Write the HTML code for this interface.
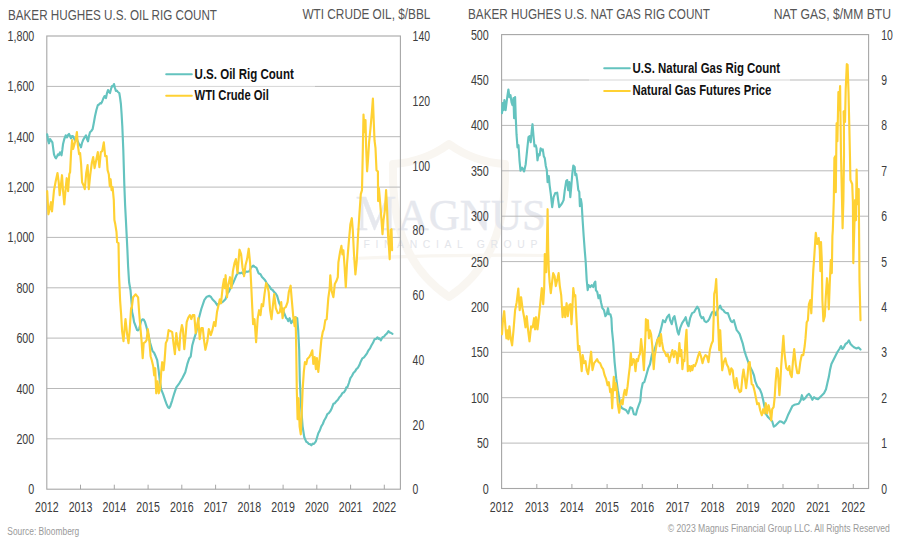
<!DOCTYPE html>
<html><head><meta charset="utf-8"><title>Rig counts</title>
<style>
html,body{margin:0;padding:0;background:#fff;}
body{width:897px;height:539px;overflow:hidden;}
svg{display:block;font-family:"Liberation Sans",sans-serif;}
</style></head><body>
<svg width="897" height="539" viewBox="0 0 897 539">
<rect width="897" height="539" fill="#ffffff"/>

<g id="wm">
<path d="M449 144 C431 157 410 163 393 164 C392 214 400 264 449 297 C498 264 506 214 505 164 C488 163 467 157 449 144 Z" fill="none" stroke="#f9f6f1" stroke-width="8" stroke-linejoin="round"/>
<path d="M352 257 Q449 252 547 254 L547 257 Q449 256 352 260 Z" fill="#f9f6f1"/>
<g font-family="Liberation Serif, serif" fill="#e6e8ee" stroke="#e6e8ee" stroke-width="0.4">
<text x="355.6" y="229.5" font-size="51" textLength="41" lengthAdjust="spacingAndGlyphs">M</text>
<text x="397.5" y="229.5" font-size="45" textLength="148.5" lengthAdjust="spacingAndGlyphs">AGNUS</text>
</g>
<text x="363.4" y="248.2" font-size="10.4" fill="#e3e5ea" textLength="174" lengthAdjust="spacing">FINANCIAL GROUP</text>
</g>

<g id="left">
<line x1="46.8" y1="86.4" x2="400.4" y2="86.4" stroke="#b9b9b9" stroke-width="1"/>
<line x1="46.8" y1="136.7" x2="400.4" y2="136.7" stroke="#b9b9b9" stroke-width="1"/>
<line x1="46.8" y1="187.1" x2="400.4" y2="187.1" stroke="#b9b9b9" stroke-width="1"/>
<line x1="46.8" y1="237.4" x2="400.4" y2="237.4" stroke="#b9b9b9" stroke-width="1"/>
<line x1="46.8" y1="287.8" x2="400.4" y2="287.8" stroke="#b9b9b9" stroke-width="1"/>
<line x1="46.8" y1="338.1" x2="400.4" y2="338.1" stroke="#b9b9b9" stroke-width="1"/>
<line x1="46.8" y1="388.5" x2="400.4" y2="388.5" stroke="#b9b9b9" stroke-width="1"/>
<line x1="46.8" y1="438.8" x2="400.4" y2="438.8" stroke="#b9b9b9" stroke-width="1"/>
<rect x="140" y="62" width="175" height="46" fill="#ffffff" fill-opacity="0.42"/>
<rect x="46.8" y="36" width="353.6" height="453.2" fill="none" stroke="#a6a6a6" stroke-width="1.1"/>
<line x1="80.5" y1="489.2" x2="80.5" y2="484.7" stroke="#a6a6a6" stroke-width="1"/>
<line x1="114.3" y1="489.2" x2="114.3" y2="484.7" stroke="#a6a6a6" stroke-width="1"/>
<line x1="148.1" y1="489.2" x2="148.1" y2="484.7" stroke="#a6a6a6" stroke-width="1"/>
<line x1="181.8" y1="489.2" x2="181.8" y2="484.7" stroke="#a6a6a6" stroke-width="1"/>
<line x1="215.6" y1="489.2" x2="215.6" y2="484.7" stroke="#a6a6a6" stroke-width="1"/>
<line x1="249.3" y1="489.2" x2="249.3" y2="484.7" stroke="#a6a6a6" stroke-width="1"/>
<line x1="283.1" y1="489.2" x2="283.1" y2="484.7" stroke="#a6a6a6" stroke-width="1"/>
<line x1="316.8" y1="489.2" x2="316.8" y2="484.7" stroke="#a6a6a6" stroke-width="1"/>
<line x1="350.6" y1="489.2" x2="350.6" y2="484.7" stroke="#a6a6a6" stroke-width="1"/>
<line x1="384.3" y1="489.2" x2="384.3" y2="484.7" stroke="#a6a6a6" stroke-width="1"/>
<text x="46.8" y="511.9" font-size="14.0" text-anchor="middle" fill="#3c3c3c" font-weight="normal" textLength="23.6" lengthAdjust="spacingAndGlyphs">2012</text>
<text x="80.5" y="511.9" font-size="14.0" text-anchor="middle" fill="#3c3c3c" font-weight="normal" textLength="23.6" lengthAdjust="spacingAndGlyphs">2013</text>
<text x="114.3" y="511.9" font-size="14.0" text-anchor="middle" fill="#3c3c3c" font-weight="normal" textLength="23.6" lengthAdjust="spacingAndGlyphs">2014</text>
<text x="148.1" y="511.9" font-size="14.0" text-anchor="middle" fill="#3c3c3c" font-weight="normal" textLength="23.6" lengthAdjust="spacingAndGlyphs">2015</text>
<text x="181.8" y="511.9" font-size="14.0" text-anchor="middle" fill="#3c3c3c" font-weight="normal" textLength="23.6" lengthAdjust="spacingAndGlyphs">2016</text>
<text x="215.6" y="511.9" font-size="14.0" text-anchor="middle" fill="#3c3c3c" font-weight="normal" textLength="23.6" lengthAdjust="spacingAndGlyphs">2017</text>
<text x="249.3" y="511.9" font-size="14.0" text-anchor="middle" fill="#3c3c3c" font-weight="normal" textLength="23.6" lengthAdjust="spacingAndGlyphs">2018</text>
<text x="283.1" y="511.9" font-size="14.0" text-anchor="middle" fill="#3c3c3c" font-weight="normal" textLength="23.6" lengthAdjust="spacingAndGlyphs">2019</text>
<text x="316.8" y="511.9" font-size="14.0" text-anchor="middle" fill="#3c3c3c" font-weight="normal" textLength="23.6" lengthAdjust="spacingAndGlyphs">2020</text>
<text x="350.6" y="511.9" font-size="14.0" text-anchor="middle" fill="#3c3c3c" font-weight="normal" textLength="23.6" lengthAdjust="spacingAndGlyphs">2021</text>
<text x="384.3" y="511.9" font-size="14.0" text-anchor="middle" fill="#3c3c3c" font-weight="normal" textLength="23.6" lengthAdjust="spacingAndGlyphs">2022</text>
<text x="34.3" y="41.0" font-size="14.0" text-anchor="end" fill="#3c3c3c" font-weight="normal" textLength="26.8" lengthAdjust="spacingAndGlyphs">1,800</text>
<text x="34.3" y="91.4" font-size="14.0" text-anchor="end" fill="#3c3c3c" font-weight="normal" textLength="26.8" lengthAdjust="spacingAndGlyphs">1,600</text>
<text x="34.3" y="141.7" font-size="14.0" text-anchor="end" fill="#3c3c3c" font-weight="normal" textLength="26.8" lengthAdjust="spacingAndGlyphs">1,400</text>
<text x="34.3" y="192.1" font-size="14.0" text-anchor="end" fill="#3c3c3c" font-weight="normal" textLength="26.8" lengthAdjust="spacingAndGlyphs">1,200</text>
<text x="34.3" y="242.4" font-size="14.0" text-anchor="end" fill="#3c3c3c" font-weight="normal" textLength="26.8" lengthAdjust="spacingAndGlyphs">1,000</text>
<text x="34.3" y="292.8" font-size="14.0" text-anchor="end" fill="#3c3c3c" font-weight="normal" textLength="17.9" lengthAdjust="spacingAndGlyphs">800</text>
<text x="34.3" y="343.1" font-size="14.0" text-anchor="end" fill="#3c3c3c" font-weight="normal" textLength="17.9" lengthAdjust="spacingAndGlyphs">600</text>
<text x="34.3" y="393.5" font-size="14.0" text-anchor="end" fill="#3c3c3c" font-weight="normal" textLength="17.9" lengthAdjust="spacingAndGlyphs">400</text>
<text x="34.3" y="443.8" font-size="14.0" text-anchor="end" fill="#3c3c3c" font-weight="normal" textLength="17.9" lengthAdjust="spacingAndGlyphs">200</text>
<text x="34.3" y="494.2" font-size="14.0" text-anchor="end" fill="#3c3c3c" font-weight="normal" textLength="6.0" lengthAdjust="spacingAndGlyphs">0</text>
<text x="412.6" y="41.0" font-size="14.0" text-anchor="start" fill="#3c3c3c" font-weight="normal" textLength="17.4" lengthAdjust="spacingAndGlyphs">140</text>
<text x="412.6" y="105.7" font-size="14.0" text-anchor="start" fill="#3c3c3c" font-weight="normal" textLength="17.4" lengthAdjust="spacingAndGlyphs">120</text>
<text x="412.6" y="170.5" font-size="14.0" text-anchor="start" fill="#3c3c3c" font-weight="normal" textLength="17.4" lengthAdjust="spacingAndGlyphs">100</text>
<text x="412.6" y="235.2" font-size="14.0" text-anchor="start" fill="#3c3c3c" font-weight="normal" textLength="11.6" lengthAdjust="spacingAndGlyphs">80</text>
<text x="412.6" y="300.0" font-size="14.0" text-anchor="start" fill="#3c3c3c" font-weight="normal" textLength="11.6" lengthAdjust="spacingAndGlyphs">60</text>
<text x="412.6" y="364.7" font-size="14.0" text-anchor="start" fill="#3c3c3c" font-weight="normal" textLength="11.6" lengthAdjust="spacingAndGlyphs">40</text>
<text x="412.6" y="429.5" font-size="14.0" text-anchor="start" fill="#3c3c3c" font-weight="normal" textLength="11.6" lengthAdjust="spacingAndGlyphs">20</text>
<text x="412.6" y="494.2" font-size="14.0" text-anchor="start" fill="#3c3c3c" font-weight="normal" textLength="5.8" lengthAdjust="spacingAndGlyphs">0</text>
<polyline points="47.2,134.3 48.2,141.0 49.0,143.3 50.0,139.0 51.0,140.3 52.4,142.3 54.0,154.3 55.0,157.0 56.0,158.3 57.0,156.5 58.0,154.3 59.0,155.0 60.0,152.3 61.5,155.3 62.3,150.0 63.0,144.3 64.3,139.0 65.7,135.3 67.0,137.3 68.0,135.0 69.0,133.9 70.0,136.0 71.0,138.3 72.0,136.0 73.0,136.3 74.0,138.5 75.0,140.3 76.0,138.5 77.0,139.3 78.0,142.0 79.0,144.3 80.0,145.0 81.0,147.3 82.0,143.0 83.0,140.3 84.5,137.5 86.0,135.3 87.0,139.0 88.0,141.3 89.0,136.0 90.0,132.2 91.3,131.0 92.6,129.2 93.8,123.0 95.0,116.2 96.4,110.0 97.8,105.2 99.0,104.5 100.2,103.1 101.1,103.5 102.0,102.0 103.3,98.5 104.6,96.0 105.3,97.6 106.0,98.0 107.0,93.0 108.0,90.0 109.0,92.2 110.0,93.0 111.0,89.0 112.0,86.0 113.0,86.4 114.0,84.0 115.0,88.0 115.9,91.0 116.9,90.6 117.9,92.0 119.3,93.0 120.1,98.0 120.9,104.0 121.6,114.0 122.3,126.0 123.3,150.0 124.3,184.2 125.1,205.0 125.9,220.3 126.7,236.0 127.4,250.0 128.1,266.2 129.1,282.2 130.5,290.2 131.7,304.3 132.1,312.0 133.1,316.3 134.1,322.1 135.6,326.0 137.1,330.1 138.1,330.5 139.1,329.1 140.1,325.0 141.1,321.1 142.4,319.3 143.7,319.5 145.0,322.0 146.2,326.1 148.2,334.1 150.2,343.1 152.6,351.2 154.0,352.5 155.2,355.2 157.2,360.2 158.6,370.2 159.8,380.3 161.2,389.3 163.2,394.3 165.2,400.3 166.7,404.5 168.2,407.4 169.2,408.0 170.2,406.4 172.2,400.3 174.3,393.3 176.3,387.3 179.3,383.3 182.3,378.3 185.3,372.2 187.3,364.2 189.3,358.2 190.7,356.6 192.3,345.2 194.3,338.1 196.3,332.1 198.3,320.5 201.3,309.0 204.4,299.8 206.8,296.7 209.4,295.9 211.0,297.0 212.4,299.3 215.4,302.3 217.4,305.3 219.0,303.5 220.4,303.3 223.4,301.3 225.4,299.3 227.4,293.3 229.0,291.5 230.4,288.2 233.5,282.2 236.5,275.2 238.5,272.6 240.0,273.4 241.5,272.6 243.0,273.6 244.5,273.2 246.0,271.5 247.5,271.8 249.5,271.2 251.0,267.5 252.1,266.6 253.3,265.6 254.5,266.6 256.5,267.8 258.5,273.2 260.5,274.2 262.0,277.1 263.5,278.6 265.1,280.2 266.6,283.0 268.1,285.1 269.6,286.5 271.1,289.1 272.6,290.0 274.2,292.1 275.7,293.5 277.2,296.1 279.2,303.1 281.2,307.2 283.8,312.2 286.2,318.2 287.2,318.8 288.2,321.2 289.6,318.2 291.2,323.2 293.2,320.2 295.2,317.2 297.2,318.2 298.2,330.2 299.2,350.3 299.8,380.1 301.2,408.2 302.6,426.3 304.3,437.3 306.3,441.9 307.5,442.3 308.7,443.9 310.0,444.1 311.3,445.3 312.6,443.7 313.9,443.9 315.9,441.3 318.3,433.3 319.8,430.5 321.3,426.3 322.8,424.0 324.3,420.2 325.8,417.8 327.3,414.2 328.8,413.2 330.3,411.2 331.8,408.2 333.4,403.8 334.9,403.2 336.4,401.2 337.9,399.8 339.4,397.2 340.9,395.8 342.4,393.1 343.9,392.3 345.4,390.1 346.4,387.2 347.4,387.1 348.9,383.0 350.4,378.1 351.9,376.0 353.4,373.1 354.9,371.6 356.4,369.1 357.9,367.8 359.4,365.1 360.4,362.4 362.4,358.3 364.0,357.3 365.5,355.3 367.0,353.3 368.5,350.3 370.0,348.4 371.5,345.3 373.0,342.8 374.5,339.3 376.0,338.9 377.5,337.3 378.5,338.8 379.5,338.3 380.9,340.3 382.5,337.3 384.0,336.6 385.5,334.7 387.0,333.4 388.5,331.2 389.5,332.4 390.5,332.6 392.5,333.8" fill="none" stroke="#64c3bf" stroke-width="2.15" stroke-linejoin="round" stroke-linecap="round"/>
<polyline points="47.2,191.2 48.4,214.3 50.0,207.3 51.0,202.2 52.0,211.3 54.0,190.2 55.7,181.2 57.5,173.1 58.7,182.2 59.7,195.2 61.0,184.2 62.0,175.2 63.0,190.2 64.3,204.3 65.7,188.2 66.7,178.2 68.1,191.2 69.3,174.2 70.1,172.1 71.1,152.1 72.1,140.0 73.1,149.0 74.5,144.0 75.7,140.0 76.9,132.0 77.7,144.0 79.1,154.1 80.1,153.1 81.1,164.1 82.1,182.2 83.5,185.2 84.8,189.2 86.2,173.1 87.6,165.1 88.8,189.2 90.2,175.2 91.8,163.1 93.2,157.1 94.6,168.1 96.2,160.1 97.8,152.1 99.4,167.1 100.8,152.1 102.2,151.1 103.8,142.4 105.2,156.1 106.6,156.1 107.6,170.1 108.8,174.2 109.8,186.2 110.6,179.2 111.6,190.2 112.6,187.2 113.8,200.2 114.4,220.0 115.3,224.3 116.5,232.0 117.1,242.1 118.5,243.1 119.1,276.2 120.1,300.3 121.1,314.0 122.1,331.1 123.5,341.1 124.5,330.0 125.5,319.1 127.1,334.1 128.5,343.1 129.7,330.1 131.1,308.0 131.7,308.3 133.1,297.3 135.7,294.3 138.1,297.3 139.1,312.0 140.1,324.1 141.5,340.1 142.7,358.2 143.7,343.1 145.2,342.1 146.6,340.1 147.8,329.1 149.2,339.1 150.6,356.2 151.8,360.2 153.2,366.2 154.2,375.3 155.2,368.2 156.2,393.3 157.6,381.3 158.8,393.3 160.2,388.3 161.2,372.2 162.2,362.2 163.6,370.2 164.6,360.2 165.8,343.1 167.2,340.1 168.6,330.1 170.6,331.1 172.2,332.1 173.6,344.2 174.9,354.2 176.3,333.1 177.7,344.2 179.3,350.2 180.3,334.1 181.9,325.1 182.9,329.1 184.3,349.2 185.7,334.1 186.7,322.1 188.3,317.5 189.9,315.1 191.3,319.1 192.7,315.1 194.3,315.1 195.7,333.1 197.1,326.1 198.3,318.1 199.7,339.1 201.3,328.1 202.8,328.1 204.0,340.1 205.4,349.8 207.4,341.1 208.8,329.1 210.8,335.1 212.4,330.1 214.0,322.1 215.4,326.1 217.0,312.0 218.8,304.0 219.8,299.3 221.0,303.3 222.8,286.2 224.0,279.2 224.8,288.2 225.6,275.2 227.0,297.3 228.4,284.2 230.0,277.2 231.4,288.2 232.9,271.2 234.5,263.1 235.9,259.1 237.5,273.2 239.5,249.7 241.1,254.1 242.5,267.2 244.1,276.2 245.5,265.2 247.1,259.1 248.7,248.7 250.1,263.1 251.1,283.0 252.1,304.2 253.1,324.2 254.5,319.2 256.1,342.3 257.7,318.2 259.1,310.2 260.5,315.2 261.7,304.2 263.1,306.2 264.5,294.1 266.1,283.1 267.5,286.1 268.7,292.1 270.1,310.2 271.5,319.2 272.7,307.2 274.2,294.1 275.8,308.2 277.8,313.2 279.8,312.2 281.2,302.1 282.6,318.2 284.2,308.2 285.8,307.2 287.6,302.1 288.8,292.1 290.6,285.7 291.8,300.1 293.2,316.2 294.6,326.2 295.6,317.2 296.2,347.0 296.8,390.1 297.6,419.2 298.6,398.2 299.6,426.3 300.8,434.3 301.6,416.2 302.6,390.1 303.8,372.1 304.9,362.0 306.3,364.0 307.3,359.0 309.3,357.0 310.9,354.0 312.3,350.3 313.3,364.0 314.7,357.0 315.9,369.1 316.9,358.0 318.3,372.0 319.7,358.0 321.3,340.3 322.7,332.2 323.9,329.2 325.3,320.2 326.7,319.2 328.3,298.1 329.7,288.1 330.3,275.3 331.7,291.1 333.4,297.1 334.8,284.1 336.4,281.1 337.8,277.1 338.4,262.3 340.0,252.3 341.4,245.9 342.4,254.3 343.4,250.3 344.6,267.0 345.8,287.1 347.0,264.0 348.8,242.2 350.4,224.2 351.8,218.2 352.8,230.2 354.0,254.3 355.4,274.4 356.8,260.3 358.0,236.2 359.4,214.2 360.8,194.1 362.0,190.1 362.9,146.2 363.5,114.5 364.5,132.2 365.5,120.1 366.1,146.2 367.1,171.3 368.1,158.3 369.1,142.2 370.5,128.2 371.9,112.1 372.9,98.5 373.7,120.1 374.5,140.2 375.5,148.2 376.5,170.3 377.9,171.3 378.1,201.1 378.9,188.1 380.1,202.1 381.5,220.2 382.5,234.2 383.5,220.2 384.9,210.1 386.1,190.1 387.1,210.1 388.1,236.2 388.9,246.3 389.7,259.3 390.5,230.2 391.5,229.2 392.1,250.3" fill="none" stroke="#ffd133" stroke-width="2.15" stroke-linejoin="round" stroke-linecap="round"/>
<line x1="166.2" y1="74.2" x2="191.8" y2="74.2" stroke="#64c3bf" stroke-width="2" stroke-linecap="round"/>
<text x="194.6" y="78.9" font-size="14.4" text-anchor="start" fill="#111111" font-weight="bold" textLength="99.2" lengthAdjust="spacingAndGlyphs">U.S. Oil Rig Count</text>
<line x1="166.2" y1="95.7" x2="191.8" y2="95.7" stroke="#ffd133" stroke-width="2" stroke-linecap="round"/>
<text x="194.6" y="100.0" font-size="14.4" text-anchor="start" fill="#111111" font-weight="bold" textLength="74.2" lengthAdjust="spacingAndGlyphs">WTI Crude Oil</text>
</g>
<g id="right">
<line x1="501.6" y1="80.0" x2="868.6" y2="80.0" stroke="#b9b9b9" stroke-width="1"/>
<line x1="501.6" y1="125.4" x2="868.6" y2="125.4" stroke="#b9b9b9" stroke-width="1"/>
<line x1="501.6" y1="170.8" x2="868.6" y2="170.8" stroke="#b9b9b9" stroke-width="1"/>
<line x1="501.6" y1="216.2" x2="868.6" y2="216.2" stroke="#b9b9b9" stroke-width="1"/>
<line x1="501.6" y1="261.6" x2="868.6" y2="261.6" stroke="#b9b9b9" stroke-width="1"/>
<line x1="501.6" y1="306.9" x2="868.6" y2="306.9" stroke="#b9b9b9" stroke-width="1"/>
<line x1="501.6" y1="352.3" x2="868.6" y2="352.3" stroke="#b9b9b9" stroke-width="1"/>
<line x1="501.6" y1="397.7" x2="868.6" y2="397.7" stroke="#b9b9b9" stroke-width="1"/>
<line x1="501.6" y1="443.1" x2="868.6" y2="443.1" stroke="#b9b9b9" stroke-width="1"/>
<rect x="589" y="56" width="201" height="48" fill="#ffffff" fill-opacity="0.42"/>
<rect x="501.6" y="34.6" width="367.0" height="453.9" fill="none" stroke="#a6a6a6" stroke-width="1.1"/>
<line x1="536.8" y1="488.5" x2="536.8" y2="484.0" stroke="#a6a6a6" stroke-width="1"/>
<line x1="571.9" y1="488.5" x2="571.9" y2="484.0" stroke="#a6a6a6" stroke-width="1"/>
<line x1="607.1" y1="488.5" x2="607.1" y2="484.0" stroke="#a6a6a6" stroke-width="1"/>
<line x1="642.3" y1="488.5" x2="642.3" y2="484.0" stroke="#a6a6a6" stroke-width="1"/>
<line x1="677.5" y1="488.5" x2="677.5" y2="484.0" stroke="#a6a6a6" stroke-width="1"/>
<line x1="712.6" y1="488.5" x2="712.6" y2="484.0" stroke="#a6a6a6" stroke-width="1"/>
<line x1="747.8" y1="488.5" x2="747.8" y2="484.0" stroke="#a6a6a6" stroke-width="1"/>
<line x1="783.0" y1="488.5" x2="783.0" y2="484.0" stroke="#a6a6a6" stroke-width="1"/>
<line x1="818.1" y1="488.5" x2="818.1" y2="484.0" stroke="#a6a6a6" stroke-width="1"/>
<line x1="853.3" y1="488.5" x2="853.3" y2="484.0" stroke="#a6a6a6" stroke-width="1"/>
<text x="501.6" y="511.9" font-size="14.0" text-anchor="middle" fill="#3c3c3c" font-weight="normal" textLength="23.6" lengthAdjust="spacingAndGlyphs">2012</text>
<text x="536.8" y="511.9" font-size="14.0" text-anchor="middle" fill="#3c3c3c" font-weight="normal" textLength="23.6" lengthAdjust="spacingAndGlyphs">2013</text>
<text x="571.9" y="511.9" font-size="14.0" text-anchor="middle" fill="#3c3c3c" font-weight="normal" textLength="23.6" lengthAdjust="spacingAndGlyphs">2014</text>
<text x="607.1" y="511.9" font-size="14.0" text-anchor="middle" fill="#3c3c3c" font-weight="normal" textLength="23.6" lengthAdjust="spacingAndGlyphs">2015</text>
<text x="642.3" y="511.9" font-size="14.0" text-anchor="middle" fill="#3c3c3c" font-weight="normal" textLength="23.6" lengthAdjust="spacingAndGlyphs">2016</text>
<text x="677.5" y="511.9" font-size="14.0" text-anchor="middle" fill="#3c3c3c" font-weight="normal" textLength="23.6" lengthAdjust="spacingAndGlyphs">2017</text>
<text x="712.6" y="511.9" font-size="14.0" text-anchor="middle" fill="#3c3c3c" font-weight="normal" textLength="23.6" lengthAdjust="spacingAndGlyphs">2018</text>
<text x="747.8" y="511.9" font-size="14.0" text-anchor="middle" fill="#3c3c3c" font-weight="normal" textLength="23.6" lengthAdjust="spacingAndGlyphs">2019</text>
<text x="783.0" y="511.9" font-size="14.0" text-anchor="middle" fill="#3c3c3c" font-weight="normal" textLength="23.6" lengthAdjust="spacingAndGlyphs">2020</text>
<text x="818.1" y="511.9" font-size="14.0" text-anchor="middle" fill="#3c3c3c" font-weight="normal" textLength="23.6" lengthAdjust="spacingAndGlyphs">2021</text>
<text x="853.3" y="511.9" font-size="14.0" text-anchor="middle" fill="#3c3c3c" font-weight="normal" textLength="23.6" lengthAdjust="spacingAndGlyphs">2022</text>
<text x="488.8" y="39.6" font-size="14.0" text-anchor="end" fill="#3c3c3c" font-weight="normal" textLength="17.9" lengthAdjust="spacingAndGlyphs">500</text>
<text x="488.8" y="85.0" font-size="14.0" text-anchor="end" fill="#3c3c3c" font-weight="normal" textLength="17.9" lengthAdjust="spacingAndGlyphs">450</text>
<text x="488.8" y="130.4" font-size="14.0" text-anchor="end" fill="#3c3c3c" font-weight="normal" textLength="17.9" lengthAdjust="spacingAndGlyphs">400</text>
<text x="488.8" y="175.8" font-size="14.0" text-anchor="end" fill="#3c3c3c" font-weight="normal" textLength="17.9" lengthAdjust="spacingAndGlyphs">350</text>
<text x="488.8" y="221.2" font-size="14.0" text-anchor="end" fill="#3c3c3c" font-weight="normal" textLength="17.9" lengthAdjust="spacingAndGlyphs">300</text>
<text x="488.8" y="266.6" font-size="14.0" text-anchor="end" fill="#3c3c3c" font-weight="normal" textLength="17.9" lengthAdjust="spacingAndGlyphs">250</text>
<text x="488.8" y="311.9" font-size="14.0" text-anchor="end" fill="#3c3c3c" font-weight="normal" textLength="17.9" lengthAdjust="spacingAndGlyphs">200</text>
<text x="488.8" y="357.3" font-size="14.0" text-anchor="end" fill="#3c3c3c" font-weight="normal" textLength="17.9" lengthAdjust="spacingAndGlyphs">150</text>
<text x="488.8" y="402.7" font-size="14.0" text-anchor="end" fill="#3c3c3c" font-weight="normal" textLength="17.9" lengthAdjust="spacingAndGlyphs">100</text>
<text x="488.8" y="448.1" font-size="14.0" text-anchor="end" fill="#3c3c3c" font-weight="normal" textLength="11.9" lengthAdjust="spacingAndGlyphs">50</text>
<text x="488.8" y="493.5" font-size="14.0" text-anchor="end" fill="#3c3c3c" font-weight="normal" textLength="6.0" lengthAdjust="spacingAndGlyphs">0</text>
<text x="881.3" y="39.6" font-size="14.0" text-anchor="start" fill="#3c3c3c" font-weight="normal" textLength="11.6" lengthAdjust="spacingAndGlyphs">10</text>
<text x="881.3" y="85.0" font-size="14.0" text-anchor="start" fill="#3c3c3c" font-weight="normal" textLength="5.8" lengthAdjust="spacingAndGlyphs">9</text>
<text x="881.3" y="130.4" font-size="14.0" text-anchor="start" fill="#3c3c3c" font-weight="normal" textLength="5.8" lengthAdjust="spacingAndGlyphs">8</text>
<text x="881.3" y="175.8" font-size="14.0" text-anchor="start" fill="#3c3c3c" font-weight="normal" textLength="5.8" lengthAdjust="spacingAndGlyphs">7</text>
<text x="881.3" y="221.2" font-size="14.0" text-anchor="start" fill="#3c3c3c" font-weight="normal" textLength="5.8" lengthAdjust="spacingAndGlyphs">6</text>
<text x="881.3" y="266.6" font-size="14.0" text-anchor="start" fill="#3c3c3c" font-weight="normal" textLength="5.8" lengthAdjust="spacingAndGlyphs">5</text>
<text x="881.3" y="311.9" font-size="14.0" text-anchor="start" fill="#3c3c3c" font-weight="normal" textLength="5.8" lengthAdjust="spacingAndGlyphs">4</text>
<text x="881.3" y="357.3" font-size="14.0" text-anchor="start" fill="#3c3c3c" font-weight="normal" textLength="5.8" lengthAdjust="spacingAndGlyphs">3</text>
<text x="881.3" y="402.7" font-size="14.0" text-anchor="start" fill="#3c3c3c" font-weight="normal" textLength="5.8" lengthAdjust="spacingAndGlyphs">2</text>
<text x="881.3" y="448.1" font-size="14.0" text-anchor="start" fill="#3c3c3c" font-weight="normal" textLength="5.8" lengthAdjust="spacingAndGlyphs">1</text>
<text x="881.3" y="493.5" font-size="14.0" text-anchor="start" fill="#3c3c3c" font-weight="normal" textLength="5.8" lengthAdjust="spacingAndGlyphs">0</text>
<polyline points="502.0,113.1 502.6,103.1 503.4,110.1 504.4,100.1 505.6,110.1 506.6,102.1 507.4,96.1 508.4,89.5 509.4,97.1 510.5,95.1 511.5,102.1 512.5,105.1 513.5,98.1 514.1,118.2 515.1,97.1 515.7,116.2 516.5,134.2 517.5,147.3 518.5,145.3 519.5,160.3 520.5,170.6 522.1,167.6 524.1,171.4 525.7,164.2 527.1,150.3 528.5,137.2 529.7,136.2 530.7,142.2 531.7,131.2 532.5,124.2 533.5,136.2 534.5,146.3 535.7,145.3 536.5,148.3 537.5,160.3 538.5,154.3 539.6,155.3 540.6,148.3 541.8,150.3 542.8,149.3 543.8,156.3 544.8,158.3 545.8,166.0 546.8,170.0 547.6,182.1 548.8,176.1 549.6,185.1 550.8,194.1 552.2,207.2 553.6,197.1 555.2,193.1 557.2,192.7 558.2,200.1 559.2,207.2 560.8,205.2 562.2,203.1 563.6,200.1 564.8,190.1 566.2,181.1 567.2,180.1 568.2,190.1 569.3,182.1 570.3,197.1 571.3,186.1 572.3,174.0 573.3,165.6 574.7,167.0 575.3,175.1 576.3,174.0 577.3,181.1 578.3,190.1 579.3,192.1 579.9,206.2 580.9,199.1 581.7,204.2 582.5,218.2 583.7,236.3 584.9,252.3 585.7,262.0 586.7,280.1 587.7,290.1 588.7,285.1 590.3,287.1 591.7,285.1 593.3,287.1 594.3,283.1 595.3,281.7 595.9,290.1 597.3,292.1 598.5,298.2 599.8,295.2 601.0,302.2 602.4,308.2 604.0,310.2 605.4,316.2 606.8,314.2 608.0,308.2 609.0,314.2 610.4,314.2 611.4,318.2 612.0,330.3 613.2,342.0 614.6,362.1 616.2,378.2 617.8,390.2 619.2,398.2 620.2,405.3 622.2,408.3 624.2,409.3 626.2,410.3 628.2,413.3 630.2,407.3 632.2,408.3 633.9,414.3 635.9,414.7 637.3,409.3 638.7,405.3 640.3,401.2 641.3,390.2 642.7,383.2 644.3,382.2 646.3,375.2 648.3,368.1 650.0,364.3 652.0,354.3 654.4,350.3 657.0,341.2 659.6,334.2 661.6,326.2 663.0,320.2 665.1,322.2 667.1,317.2 669.1,314.6 670.1,320.2 671.7,324.2 673.1,318.2 674.5,316.2 676.1,324.2 677.7,332.2 678.7,334.6 680.1,328.2 682.1,323.2 684.1,320.2 685.7,317.2 687.1,323.2 688.5,326.2 690.1,318.2 692.1,313.1 694.2,312.1 695.8,309.1 697.2,306.7 698.8,309.1 700.2,315.2 701.8,318.2 703.2,317.2 704.6,321.2 706.2,322.2 707.8,321.2 709.2,319.2 710.8,315.2 712.2,312.1 714.2,311.1 715.8,315.2 717.2,311.1 718.6,308.1 720.2,305.7 721.6,309.1 723.3,310.1 724.7,312.1 726.3,313.1 727.9,313.1 729.3,317.2 730.9,321.2 732.3,322.2 733.9,320.2 735.3,325.2 736.7,330.2 738.3,332.2 739.7,334.2 741.3,339.2 742.7,343.3 744.3,350.3 745.9,355.3 747.3,359.3 748.7,363.3 750.3,367.3 752.4,371.3 754.0,375.4 755.2,381.1 757.2,386.2 759.8,389.2 761.8,394.2 763.2,400.2 764.6,407.2 766.2,414.3 768.2,417.3 770.2,419.3 772.2,421.3 773.8,426.7 775.8,425.3 777.8,423.3 779.8,421.3 781.8,421.9 783.9,423.3 785.9,420.3 787.9,415.3 789.9,411.2 792.3,406.2 794.3,404.8 796.7,404.2 798.7,403.8 800.7,400.2 801.9,395.2 803.3,399.8 805.3,398.2 807.3,395.2 808.9,393.8 810.7,396.2 812.4,399.8 814.0,397.2 816.0,398.6 818.0,399.2 820.0,397.2 822.0,395.2 824.0,393.2 826.0,389.2 827.4,383.1 828.8,377.1 830.0,370.1 831.4,364.1 833.4,360.1 835.4,356.1 837.4,352.0 839.4,349.0 841.0,346.0 842.4,349.0 844.0,347.0 845.5,344.0 847.1,343.0 848.9,340.4 850.5,344.0 852.5,346.0 854.5,347.6 856.5,348.4 858.5,347.6 860.5,349.6" fill="none" stroke="#64c3bf" stroke-width="2.15" stroke-linejoin="round" stroke-linecap="round"/>
<polyline points="502.0,334.3 503.0,319.2 504.2,311.2 505.4,326.3 506.4,338.3 507.4,330.3 508.4,339.3 509.4,326.3 510.7,338.3 512.1,345.3 513.5,330.3 515.1,310.2 516.7,302.2 518.3,288.5 519.7,310.2 521.1,297.2 522.5,308.2 524.1,317.2 525.5,327.3 526.7,316.2 528.1,330.3 529.5,341.3 531.1,326.3 532.7,327.3 534.1,318.2 535.1,329.3 536.1,317.2 537.5,329.3 539.2,314.2 540.6,300.2 541.8,288.1 543.2,304.2 544.2,288.1 544.8,254.0 546.2,272.1 546.8,252.0 547.6,209.2 548.2,250.0 548.8,270.1 549.6,282.1 550.8,293.1 552.2,281.1 553.2,273.1 554.6,276.1 555.8,286.1 557.2,280.1 558.6,273.1 559.8,286.1 561.2,295.2 562.6,317.2 564.2,307.2 565.2,317.2 566.6,303.2 567.8,316.2 569.3,305.2 570.5,304.2 571.5,324.3 572.3,310.2 573.3,288.1 574.3,296.2 575.3,295.2 576.3,316.2 577.3,334.3 578.1,350.1 579.3,346.1 580.5,358.1 581.7,371.1 582.7,355.1 584.1,363.1 585.5,361.1 586.7,370.1 588.1,374.2 589.5,364.1 591.1,351.7 592.5,370.1 594.1,363.1 595.7,361.1 597.1,359.1 598.5,362.1 600.1,363.1 601.7,367.1 603.1,369.1 604.6,375.2 606.2,379.2 607.6,385.2 608.8,382.2 610.2,392.2 611.2,389.2 612.2,408.3 613.0,390.2 613.8,376.8 614.8,390.2 615.8,383.2 616.8,390.2 617.8,404.3 619.2,412.7 620.2,404.3 621.6,400.2 622.6,404.3 623.8,394.2 624.8,389.8 626.2,395.2 627.6,386.2 628.8,375.2 629.8,367.1 630.8,353.1 631.8,365.1 633.3,359.1 634.3,360.1 635.5,371.1 636.7,359.1 637.9,361.1 638.9,356.1 639.9,354.1 641.1,339.0 642.3,350.1 643.3,362.1 643.9,370.1 644.7,352.1 645.5,334.0 645.9,319.2 646.9,330.3 647.9,320.2 648.9,338.3 649.9,330.3 651.1,334.3 652.3,346.1 653.7,369.1 654.7,356.1 655.9,349.1 657.3,340.0 658.7,338.0 659.7,346.1 660.9,334.0 661.9,342.0 663.4,350.1 664.8,352.1 666.4,356.1 667.8,354.1 669.4,362.1 670.8,356.1 672.4,350.1 673.8,357.1 675.0,351.1 676.4,353.1 677.4,363.1 678.4,356.1 679.4,343.0 680.4,356.1 681.4,350.1 682.4,369.1 683.4,360.1 684.4,361.1 685.4,342.0 686.5,329.8 687.3,354.3 687.8,371.1 689.4,366.1 690.4,371.1 691.4,366.1 692.4,370.1 693.5,365.1 694.9,366.1 696.5,362.1 698.1,356.1 699.5,352.1 700.9,356.1 702.5,363.1 703.9,358.1 705.5,355.1 706.9,356.1 708.5,362.1 709.9,350.1 711.5,344.0 712.9,341.0 713.6,320.2 714.2,294.1 715.2,290.1 716.2,279.0 717.2,304.1 718.2,326.2 719.2,350.3 720.2,330.2 721.2,350.3 722.2,370.3 723.7,362.3 725.3,358.3 726.7,364.3 728.3,367.3 729.9,374.4 731.3,368.3 732.7,370.3 733.7,380.1 735.1,388.2 736.5,378.1 738.1,388.2 739.7,392.2 741.1,391.2 742.5,376.1 743.5,369.5 745.1,380.1 746.1,388.2 747.5,376.1 748.7,363.1 749.7,362.1 750.7,374.1 751.7,384.2 753.1,385.2 754.6,391.2 755.8,397.2 757.2,404.2 758.8,403.2 760.2,410.2 761.8,415.3 763.2,409.2 764.6,413.3 765.8,403.2 767.2,413.3 768.6,405.2 769.8,410.2 771.2,420.3 772.2,409.2 773.6,407.2 774.6,398.2 775.6,382.1 776.8,368.1 777.8,370.1 778.6,382.1 779.4,395.2 780.2,384.2 781.2,366.1 782.2,352.0 783.4,335.8 784.4,352.0 785.3,360.1 786.3,368.1 787.9,370.1 789.3,366.1 790.3,374.1 791.7,377.1 792.9,362.1 794.2,349.0 795.7,364.1 797.3,373.1 798.9,373.1 800.3,362.1 801.7,355.1 803.3,355.1 804.7,346.0 805.5,338.2 806.7,322.3 807.9,320.3 808.9,304.3 810.3,300.2 811.3,313.3 812.3,290.2 813.3,270.1 814.3,256.1 815.3,240.0 815.8,232.8 817.3,244.0 818.7,238.0 819.8,250.1 820.4,271.1 821.0,242.0 821.8,260.1 822.4,300.2 823.4,321.3 824.8,316.3 825.8,296.2 827.0,278.2 828.0,290.2 828.8,309.3 829.8,282.2 830.8,260.1 831.8,273.1 832.4,236.0 832.8,230.3 833.8,200.2 834.4,158.1 835.4,156.1 835.8,192.2 836.6,123.3 837.4,141.3 838.4,92.1 839.0,110.2 840.1,86.0 840.4,110.0 841.0,155.0 842.0,200.0 842.6,228.3 843.4,200.0 844.0,155.0 843.9,125.0 843.6,111.5 844.6,111.0 845.0,122.0 845.7,90.1 846.8,64.2 847.6,64.8 848.5,92.0 849.4,130.0 850.0,158.0 850.4,180.0 852.2,184.0 852.9,202.0 853.3,263.1 855.1,200.0 855.9,220.3 856.6,169.5 857.4,204.2 858.7,189.0 859.5,280.2 860.5,320.3" fill="none" stroke="#ffd133" stroke-width="2.15" stroke-linejoin="round" stroke-linecap="round"/>
<line x1="604.2" y1="68.2" x2="629.8" y2="68.2" stroke="#64c3bf" stroke-width="2" stroke-linecap="round"/>
<text x="632.6" y="72.8" font-size="14.4" text-anchor="start" fill="#111111" font-weight="bold" textLength="147.5" lengthAdjust="spacingAndGlyphs">U.S. Natural Gas Rig Count</text>
<line x1="604.2" y1="90.9" x2="629.8" y2="90.9" stroke="#ffd133" stroke-width="2" stroke-linecap="round"/>
<text x="632.6" y="94.7" font-size="14.4" text-anchor="start" fill="#111111" font-weight="bold" textLength="138.8" lengthAdjust="spacingAndGlyphs">Natural Gas Futures Price</text>
</g>
<text x="8.0" y="19.7" font-size="14.1" text-anchor="start" fill="#555555" font-weight="normal" textLength="209.0" lengthAdjust="spacingAndGlyphs">BAKER HUGHES U.S. OIL RIG COUNT</text>
<text x="430.4" y="18.6" font-size="14.1" text-anchor="end" fill="#555555" font-weight="normal" textLength="128.0" lengthAdjust="spacingAndGlyphs">WTI CRUDE OIL, $/BBL</text>
<text x="468.0" y="18.7" font-size="14.1" text-anchor="start" fill="#555555" font-weight="normal" textLength="242.0" lengthAdjust="spacingAndGlyphs">BAKER HUGHES U.S. NAT GAS RIG COUNT</text>
<text x="891.1" y="18.7" font-size="14.1" text-anchor="end" fill="#555555" font-weight="normal" textLength="117.3" lengthAdjust="spacingAndGlyphs">NAT GAS, $/MM BTU</text>
<text x="7.3" y="535.0" font-size="10" text-anchor="start" fill="#9a9a9a" font-weight="normal" textLength="72.0" lengthAdjust="spacingAndGlyphs">Source: Bloomberg</text>
<text x="889.8" y="531.9" font-size="10" text-anchor="end" fill="#9a9a9a" font-weight="normal" textLength="222.0" lengthAdjust="spacingAndGlyphs">© 2023 Magnus Financial Group LLC. All Rights Reserved</text>
</svg></body></html>
